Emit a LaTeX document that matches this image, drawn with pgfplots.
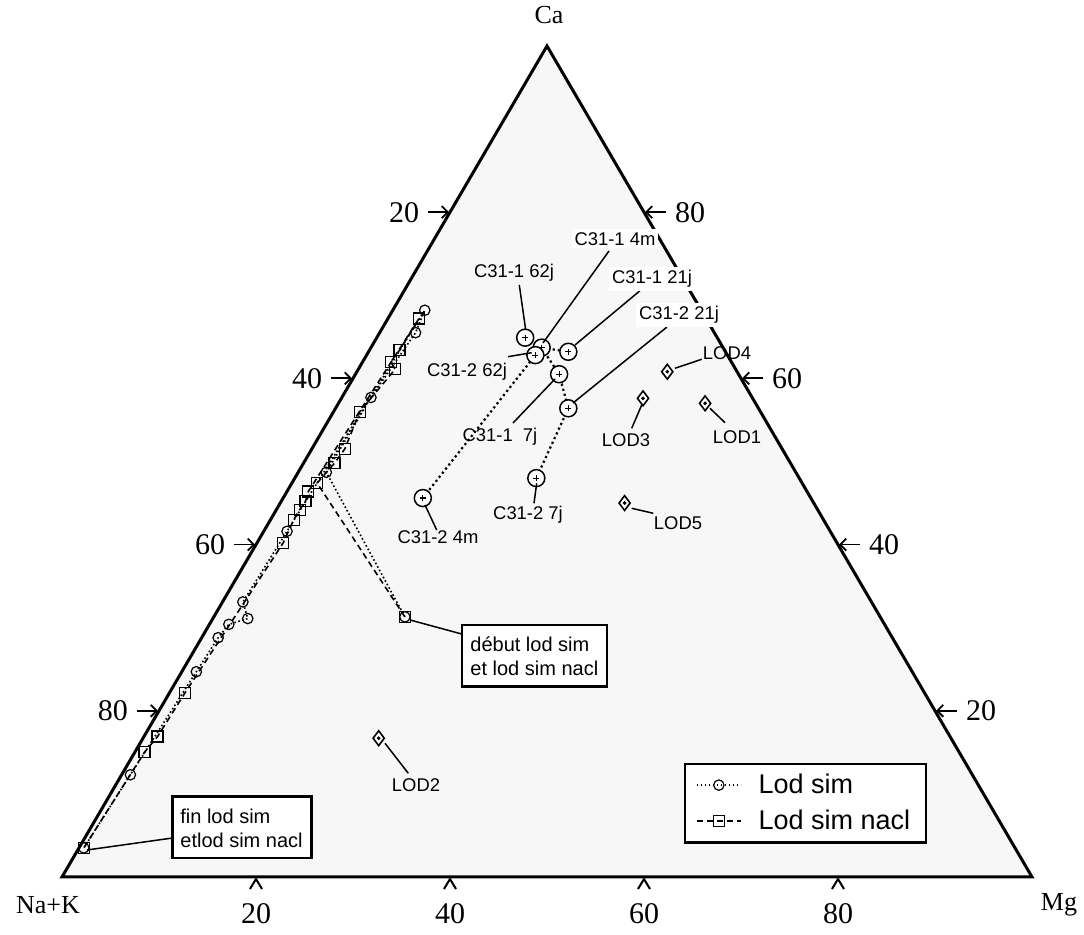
\documentclass[border=0pt]{standalone}
\usepackage{fontspec}
\setmainfont{Liberation Sans}
\newfontfamily\serif{Liberation Serif}
\usepackage{pgfplots}
\pgfplotsset{compat=1.18}
\usepackage{pgfplotstable}
\usetikzlibrary{arrows.meta}

% compositions in percent: Na+K, Ca, Mg
\pgfplotstableread{
NaK Ca Mg
49.0 31.3 19.7
48.4 48.7 2.9
39.3 57.7 3.0
30.8 65.5 3.7
28.5 68.2 3.3
56.0 41.6 2.4
64.8 33.1 2.1
65.3 31.1 3.6
67.6 30.4 2.0
69.5 28.8 1.7
73.8 24.7 1.5
86.8 12.3 0.9
96.0 3.5 0.5
}\lodsim

\pgfplotstableread{
NaK Ca Mg
49.0 31.3 19.7
50.0 47.4 2.6
47.0 49.8 3.2
45.1 51.5 3.4
41.3 56.0 2.7
35.1 61.1 3.8
35.1 62.0 2.9
33.5 63.4 3.1
29.6 67.2 3.2
51.4 46.4 2.2
52.3 45.2 2.5
53.4 44.2 2.4
54.6 43.0 2.4
57.1 40.2 2.7
76.3 22.1 1.6
81.7 16.9 1.4
84.0 15.0 1.0
96.0 3.5 0.5
}\lodsimnacl

\pgfplotstableread{
NaK Ca Mg
19.8 64.9 15.3
18.7 63.7 17.6
16.2 63.2 20.6
18.5 60.5 21.0
19.8 62.8 17.4
19.6 56.4 24.0
27.1 48.0 24.9
40.0 45.6 14.4
}\ctab

\pgfplotstableread{
NaK Ca Mg
40.0 45.6 14.4
19.8 62.8 17.4
18.7 63.7 17.6
16.2 63.2 20.6
}\cpatha

\pgfplotstableread{
NaK Ca Mg
18.7 63.7 17.6
18.5 60.5 21.0
19.6 56.4 24.0
27.1 48.0 24.9
}\cpathb

\pgfplotstableread{
NaK Ca Mg
5.2 57.0 37.8
59.0 16.7 24.3
11.3 57.6 31.1
7.2 60.8 32.0
19.5 45.0 35.5
}\lodtab

\newcommand\lbl{\fontsize{9.2}{11}\selectfont}
\newcommand\boxf{\fontsize{10}{12}\selectfont}
\newcommand\tickf{\serif\fontsize{15}{18}\selectfont}

\begin{document}
\begin{tikzpicture}
\useasboundingbox (-31pt,-29pt) rectangle (511pt,438.5pt);
\begin{axis}[
  at={(0pt,0pt)}, anchor=south west,
  scale only axis, width=485pt, height=415.5pt,
  xmin=0, xmax=100, ymin=0, ymax=100,
  hide axis, clip=false,
  legend cell align=left,
  legend style={at={(0.6412,0.1375)}, anchor=north west, draw=black,
    line width=1.1pt, fill=white, font=\fontsize{13.5}{15}\selectfont,
    inner xsep=5.5pt, inner ysep=2.5pt, row sep=1.8pt,
    nodes={inner sep=2.5pt},
    /tikz/every odd column/.style={column sep=6pt}},
  legend image code/.code={\draw[mark repeat=2,mark phase=2,#1]
    plot coordinates {(0pt,0pt) (11pt,0pt) (22pt,0pt)};},
]
% triangle frame
\addplot[forget plot, draw=black, line width=1.5pt, line join=miter, fill=black!3]
  coordinates {(0,0) (100,0) (50,100)} -- cycle;

\addplot[black, line width=0.8pt, dash pattern=on 0.8pt off 1.2pt,
  mark=o, mark size=2.6pt, mark options={solid, fill=white, line width=0.6pt}]
  table[x expr=\thisrow{Mg}+0.5*\thisrow{Ca}, y=Ca] {\lodsim};
\addlegendentry{Lod sim}
\addplot[black, line width=0.8pt, dash pattern=on 3pt off 2pt,
  mark=square, mark size=2.75pt, mark options={solid, fill=white, line width=0.6pt}]
  table[x expr=\thisrow{Mg}+0.5*\thisrow{Ca}, y=Ca] {\lodsimnacl};
\addlegendentry{Lod sim nacl}

% C31 samples
\addplot[forget plot, black, line width=1.1pt, dash pattern=on 1.1pt off 1.5pt]
  table[x expr=\thisrow{Mg}+0.5*\thisrow{Ca}, y=Ca] {\cpatha};
\addplot[forget plot, black, line width=1.1pt, dash pattern=on 1.1pt off 1.5pt]
  table[x expr=\thisrow{Mg}+0.5*\thisrow{Ca}, y=Ca] {\cpathb};
\addplot[forget plot, only marks, mark=*, mark size=4.25pt,
  mark options={draw=black, fill=white, line width=0.75pt}]
  table[x expr=\thisrow{Mg}+0.5*\thisrow{Ca}, y=Ca] {\ctab};
\addplot[forget plot, only marks, mark=+, mark size=1.5pt,
  mark options={black, line width=0.6pt}]
  table[x expr=\thisrow{Mg}+0.5*\thisrow{Ca}, y=Ca] {\ctab};

% LOD samples
\addplot[forget plot, only marks, mark=diamond*, mark size=3.7pt,
  mark options={draw=black, fill=white, line width=0.8pt}]
  table[x expr=\thisrow{Mg}+0.5*\thisrow{Ca}, y=Ca] {\lodtab};
\addplot[forget plot, only marks, mark=*, mark size=0.7pt, mark options={black}]
  table[x expr=\thisrow{Mg}+0.5*\thisrow{Ca}, y=Ca] {\lodtab};
\end{axis}

% annotations, in pixel units of the original figure
\begin{scope}[x=0.5pt, y=-0.5pt, shift={(-31pt,438.5pt)}]
  % ticks
  \foreach \c/\l in {80/20,60/40,40/60,20/80}{
    \draw[line width=0.9pt, -{Straight Barb[length=3pt,width=6pt]}]
      ({62+\c*4.85-22},{877-\c*8.31}) -- ({62+\c*4.85-1},{877-\c*8.31});
    \node[font=\tickf] at ({62+\c*4.85-46},{877-\c*8.31}) {\l};
    \draw[line width=0.9pt, -{Straight Barb[length=3pt,width=6pt]}]
      ({1032-\c*4.85+22},{877-\c*8.31}) -- ({1032-\c*4.85+1},{877-\c*8.31});
    \node[font=\tickf] at ({1032-\c*4.85+46},{877-\c*8.31}) {\c};
  }
  \foreach \m in {20,40,60,80}{
    \draw[line width=1pt] ({62+\m*9.7-6},889) -- ({62+\m*9.7},879) -- ({62+\m*9.7+6},889);
    \node[font=\tickf, inner sep=1pt] at ({62+\m*9.7},914) {\m};
  }
  % corners
  \node[font=\serif\fontsize{13}{15}\selectfont] at (549,15) {Ca};
  \node[font=\serif\fontsize{13}{15}\selectfont] at (48,905) {Na+K};
  \node[font=\serif\fontsize{13}{15}\selectfont] at (1059,905) {Mg};

  % C31 labels
  \draw[line width=0.75pt] (543,343) -- (609,251);
  \node[font=\lbl, fill=white, inner sep=1.5pt] at (615,239) {C31-1 4m};
  \draw[line width=0.75pt] (525.7,330) -- (519.3,285);
  \node[font=\lbl] at (514,273) {C31-1 62j};
  \draw[line width=0.75pt] (575,345) -- (640,290.7);
  \node[font=\lbl, fill=white, inner sep=1.5pt] at (652,279) {C31-1 21j};
  \draw[line width=0.75pt] (573,403) -- (667,327);
  \node[font=\lbl, fill=white, inner sep=1.5pt] at (679,315) {C31-2 21j};
  \draw[line width=0.75pt] (508,356.7) -- (531.7,352.7);
  \node[font=\lbl] at (467,372) {C31-2 62j};
  \draw[line width=0.75pt] (513,423) -- (555,379);
  \node[font=\lbl] at (500,437) {C31-1~~7j};
  \draw[line width=0.75pt] (536.7,483.3) -- (534,503.3);
  \node[font=\lbl] at (528,515) {C31-2 7j};
  \draw[line width=0.75pt] (425,505) -- (436.7,530);
  \node[font=\lbl] at (438,537) {C31-2 4m};

  % LOD labels
  \draw[line width=0.75pt] (675,368.3) -- (701.7,359.3);
  \node[font=\lbl] at (727,353) {LOD4};
  \draw[line width=0.75pt] (641.7,405) -- (631.7,428.3);
  \node[font=\lbl] at (626,440) {LOD3};
  \draw[line width=0.75pt] (710,408.3) -- (725,422.7);
  \node[font=\lbl] at (737,437) {LOD1};
  \draw[line width=0.75pt] (631.7,508.3) -- (653.3,513.3);
  \node[font=\lbl] at (678,523) {LOD5};
  \draw[line width=0.75pt] (385,743.3) -- (408.3,773.3);
  \node[font=\lbl] at (416,785) {LOD2};

  % boxes
  \draw[line width=0.75pt] (410,620) -- (461.7,634);
  \draw[line width=1.2pt, fill=white] (461.7,625) rectangle (606.7,686.7);
  \node[font=\boxf, anchor=west, inner sep=0pt] at (470,644.3) {début lod sim};
  \node[font=\boxf, anchor=west, inner sep=0pt] at (470,668.3) {et lod sim nacl};

  \draw[line width=0.75pt] (87,850) -- (172.7,838);
  \draw[line width=1.2pt, fill=white] (172.7,796.7) rectangle (311.7,858.3);
  \node[font=\boxf, anchor=west, inner sep=0pt] at (180,816.7) {fin lod sim};
  \node[font=\boxf, anchor=west, inner sep=0pt] at (180,840) {etlod sim nacl};
\end{scope}
\end{tikzpicture}
\end{document}
